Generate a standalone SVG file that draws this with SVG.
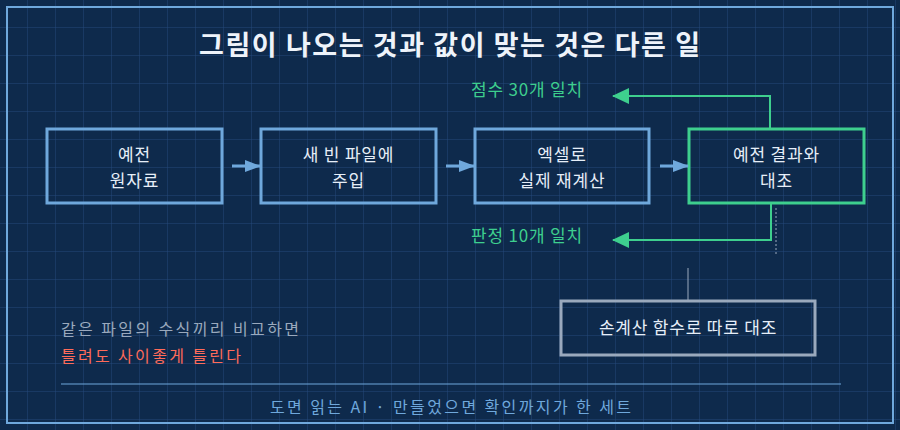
<svg xmlns="http://www.w3.org/2000/svg" width="900" height="430" viewBox="0 0 900 430">
<defs>
<pattern id="grid" width="28" height="28" patternUnits="userSpaceOnUse"><path d="M28 0V28M0 28H28" fill="none" stroke="#24477a" stroke-width="1"/></pattern>
<marker id="ab" markerWidth="16" markerHeight="12" refX="15" refY="6" orient="auto" markerUnits="userSpaceOnUse"><path d="M0 0L16 6L0 12Z" fill="#6fa8dc"/></marker>
<marker id="ag" markerWidth="17" markerHeight="16" refX="16" refY="8" orient="auto" markerUnits="userSpaceOnUse"><path d="M0 0L17 8L0 16Z" fill="#3ecf8e"/></marker>
</defs>
<style>
text{font-family:"Noto Sans CJK KR","Noto Sans",sans-serif}
.box{fill:none;stroke:#6fa8dc;stroke-width:3}
.nt{fill:#e6eef8;font-size:17px;text-anchor:middle;letter-spacing:0.8px}
.gl{fill:#3ecf8e;font-size:17px;letter-spacing:0.8px}
</style>
<rect width="900" height="430" fill="#0e2a4c"/>
<rect width="900" height="430" fill="url(#grid)"/>
<rect x="7" y="7" width="886" height="416" fill="none" stroke="#6fa8dc" stroke-width="2"/>
<text x="199" y="55" font-size="27" font-weight="bold" fill="#eef3fa" textLength="501" lengthAdjust="spacing">그림이 나오는 것과 값이 맞는 것은 다른 일</text>
<g id="n1"><rect class="box" x="47" y="129" width="175" height="74"/><text class="nt" x="134.5" y="161">예전</text><text class="nt" x="134.5" y="187">원자료</text></g>
<g id="n2"><rect class="box" x="261" y="129" width="175" height="74"/><text class="nt" x="348.5" y="161">새 빈 파일에</text><text class="nt" x="348.5" y="187">주입</text></g>
<g id="n3"><rect class="box" x="475" y="129" width="174" height="74"/><text class="nt" x="562" y="161">엑셀로</text><text class="nt" x="562" y="187">실제 재계산</text></g>
<g id="n4"><rect class="box" x="689" y="129" width="175" height="74" style="stroke:#3ecf8e"/><text class="nt" x="776.5" y="161">예전 결과와</text><text class="nt" x="776.5" y="187">대조</text></g>
<g id="n5"><rect x="561" y="301" width="254" height="54" fill="none" stroke="#9aa9bd" stroke-width="3"/><text class="nt" x="688" y="334">손계산 함수로 따로 대조</text></g>
<g id="connectors">
<line x1="232" y1="166" x2="260" y2="166" stroke="#6fa8dc" stroke-width="3" marker-end="url(#ab)"/>
<line x1="446" y1="166" x2="474" y2="166" stroke="#6fa8dc" stroke-width="3" marker-end="url(#ab)"/>
<line x1="660" y1="166" x2="688" y2="166" stroke="#6fa8dc" stroke-width="3" marker-end="url(#ab)"/>
<polyline points="770,129 770,96 613,96" fill="none" stroke="#3ecf8e" stroke-width="2" marker-end="url(#ag)"/>
<polyline points="771,204 771,240 613,240" fill="none" stroke="#3ecf8e" stroke-width="2" marker-end="url(#ag)"/>
<line x1="776" y1="208" x2="776" y2="256" stroke="#9aa9bd" stroke-width="1" stroke-dasharray="2,2"/>
<line x1="688" y1="268" x2="688" y2="300" stroke="#9aa9bd" stroke-width="1"/>
</g>
<text class="gl" x="471" y="96" textLength="112" lengthAdjust="spacing">점수 30개 일치</text>
<text class="gl" x="471" y="242" textLength="112" lengthAdjust="spacing">판정 10개 일치</text>
<text x="61" y="335" font-size="16" fill="#9aa9bd" textLength="238" lengthAdjust="spacing">같은 파일의 수식끼리 비교하면</text>
<text x="61" y="362" font-size="16" fill="#ff6b5a" textLength="180" lengthAdjust="spacing">틀려도 사이좋게 틀린다</text>
<line x1="61" y1="384" x2="841" y2="384" stroke="#6fa8dc" stroke-width="1"/>
<text x="270" y="413" font-size="16" fill="#6fa8dc" textLength="361" lengthAdjust="spacing">도면 읽는 AI · 만들었으면 확인까지가 한 세트</text>
</svg>
